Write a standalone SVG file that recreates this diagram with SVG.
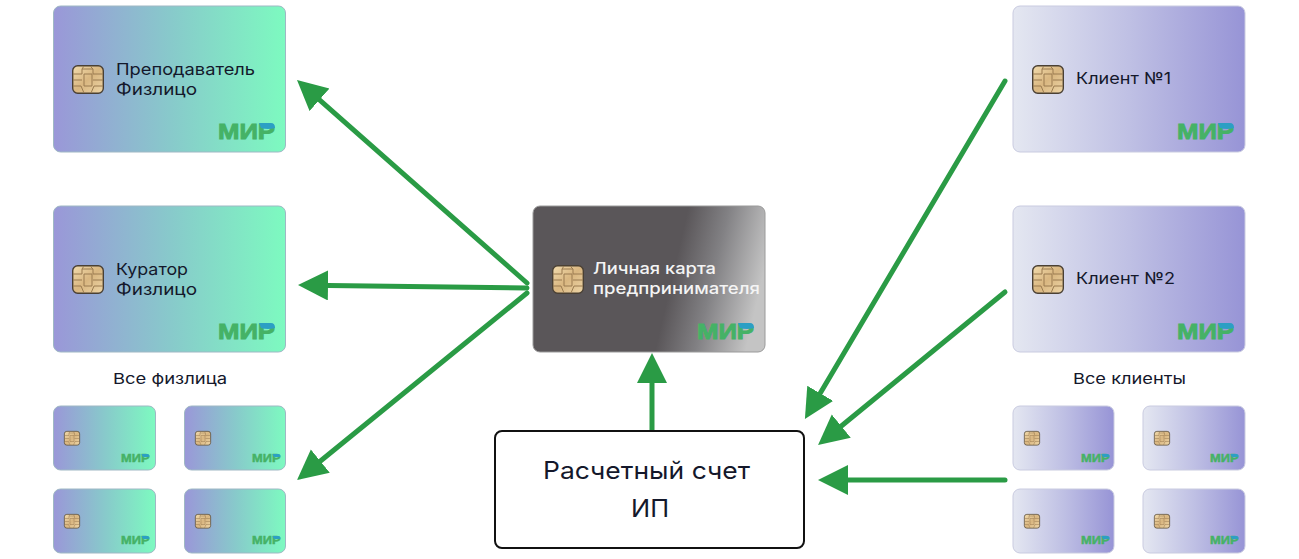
<svg xmlns="http://www.w3.org/2000/svg" width="1299" height="559" viewBox="0 0 1299 559">
<style>
text{font-family:"Inter","Noto Sans","Liberation Sans",sans-serif}
.g{fill:url(#gradGreen);stroke:#9fb8c4;stroke-width:1}
.v{fill:url(#gradViolet);stroke:#c9cbe0;stroke-width:1}
.d{fill:url(#gradDark);stroke:#9a9a9a;stroke-width:1}
.t{font-size:16.5px;fill:#14182b}
.w{font-size:16.5px;font-weight:500;fill:#f4f4f4}
.c{font-size:15px;fill:#14182b}
.b{font-size:24px;fill:#14182b}
.ar{fill:none;stroke:#2a9b45;stroke-width:5;stroke-linecap:round;marker-end:url(#head)}
</style>
<defs>
<linearGradient id="gradGreen" x1="0" y1="0" x2="1" y2="0"><stop offset="0" stop-color="#9a97d8"/><stop offset="0.5" stop-color="#88c9cb"/><stop offset="1" stop-color="#7dfac0"/></linearGradient>
<linearGradient id="gradViolet" x1="0" y1="0" x2="1" y2="0"><stop offset="0" stop-color="#e4e7f1"/><stop offset="0.5" stop-color="#bfc0e4"/><stop offset="1" stop-color="#9794d6"/></linearGradient>
<linearGradient id="gradDark" gradientUnits="userSpaceOnUse" x1="672" y1="278" x2="758" y2="298"><stop offset="0" stop-color="#5a5659"/><stop offset="0.45" stop-color="#828184"/><stop offset="1" stop-color="#c4c4c4"/></linearGradient>
<linearGradient id="gradChip" x1="0" y1="0" x2="1" y2="1"><stop offset="0" stop-color="#f2dcae"/><stop offset="0.5" stop-color="#d9b680"/><stop offset="1" stop-color="#eed6a8"/></linearGradient>
<marker id="head" markerUnits="userSpaceOnUse" markerWidth="32" markerHeight="32" refX="20" refY="15" orient="auto"><path d="M0,0L30,15L0,30Z" fill="#2a9b45"/></marker>
<g id="chip">
<rect x="0.7" y="0.7" width="30.6" height="27.6" rx="5" fill="url(#gradChip)" stroke="#4a4034" stroke-width="1.4"/>
<path d="M1,9H10V4M1,15H10M1,21H9L12,28M31,9H21V4L18,1M31,15H21M31,21H22L19,28M12,1L10,4H21M12,9H20V21H12Z" fill="none" stroke="#9a7b50" stroke-width="1"/>
</g>
<g id="mir">
<text x="0" y="16" font-size="22" font-weight="700" textLength="57" lengthAdjust="spacingAndGlyphs" stroke="#45b266" stroke-width="0.9" style="font-family:'Liberation Sans',sans-serif" fill="#45b266">МИР</text>
<path d="M41,0H53Q57,0 57,5Q50,7 43,5Z" fill="#2c9fc4"/>
</g>
</defs>

<g id="connectors">
<line class="ar" x1="527" y1="283" x2="304.500" y2="86.600"/>
<line class="ar" x1="527" y1="288" x2="308" y2="285.200"/>
<line class="ar" x1="527" y1="293" x2="304.800" y2="473.700"/>
<line class="ar" x1="652" y1="430" x2="652" y2="363"/>
<line class="ar" x1="1005" y1="81" x2="810" y2="410.500"/>
<line class="ar" x1="1005" y1="292" x2="825.800" y2="438.700"/>
<line class="ar" x1="1005" y1="480" x2="828" y2="480"/>
</g>

<g id="card-teacher"><rect class="g" x="53.500" y="6" width="232" height="146" rx="7"/><use href="#chip" x="72" y="65"/><text class="t" x="116" y="75" textLength="139" lengthAdjust="spacingAndGlyphs">Преподаватель</text><text class="t" x="116" y="95" textLength="81" lengthAdjust="spacingAndGlyphs">Физлицо</text><use href="#mir" x="218" y="123"/></g>
<g id="card-curator"><rect class="g" x="53.500" y="206" width="232" height="146" rx="7"/><use href="#chip" x="72" y="265"/><text class="t" x="116" y="275" textLength="72" lengthAdjust="spacingAndGlyphs">Куратор</text><text class="t" x="116" y="295" textLength="81" lengthAdjust="spacingAndGlyphs">Физлицо</text><use href="#mir" x="218" y="323"/></g>
<g id="label-all-persons"><text class="c" x="113" y="384" textLength="114" lengthAdjust="spacingAndGlyphs">Все физлица</text></g>
<g id="card-person-1"><rect class="g" x="53.500" y="406" width="102" height="64" rx="7"/><use href="#chip" transform="translate(64 431) scale(.5)"/><use href="#mir" transform="translate(121 454) scale(.5)"/></g>
<g id="card-person-2"><rect class="g" x="184.500" y="406" width="101" height="64" rx="7"/><use href="#chip" transform="translate(195 431) scale(.5)"/><use href="#mir" transform="translate(252 454) scale(.5)"/></g>
<g id="card-person-3"><rect class="g" x="53.500" y="489" width="102" height="64" rx="7"/><use href="#chip" transform="translate(64 514) scale(.5)"/><use href="#mir" transform="translate(121 536) scale(.5)"/></g>
<g id="card-person-4"><rect class="g" x="184.500" y="489" width="101" height="64" rx="7"/><use href="#chip" transform="translate(195 514) scale(.5)"/><use href="#mir" transform="translate(252 536) scale(.5)"/></g>

<g id="card-owner"><rect class="d" x="533" y="206" width="232" height="146" rx="7"/><use href="#chip" x="552" y="265"/><text class="w" x="593" y="274" textLength="123" lengthAdjust="spacingAndGlyphs">Личная карта</text><text class="w" x="593" y="294" textLength="167" lengthAdjust="spacingAndGlyphs">предпринимателя</text><use href="#mir" x="697" y="323"/></g>

<g id="account"><rect x="495" y="431" width="309" height="117" rx="7" fill="#fff" stroke="#111" stroke-width="2"/><text class="b" x="543" y="479" textLength="207" lengthAdjust="spacingAndGlyphs">Расчетный счет</text><text class="b" x="631" y="517" textLength="38" lengthAdjust="spacingAndGlyphs">ИП</text></g>

<g id="card-client-1"><rect class="v" x="1013" y="6" width="232" height="146" rx="7"/><use href="#chip" x="1032" y="65"/><text class="t" x="1076" y="84" textLength="95" lengthAdjust="spacingAndGlyphs">Клиент №1</text><use href="#mir" x="1177" y="123"/></g>
<g id="card-client-2"><rect class="v" x="1013" y="206" width="232" height="146" rx="7"/><use href="#chip" x="1032" y="265"/><text class="t" x="1076" y="284" textLength="99" lengthAdjust="spacingAndGlyphs">Клиент №2</text><use href="#mir" x="1177" y="323"/></g>
<g id="label-all-clients"><text class="c" x="1073" y="384" textLength="113" lengthAdjust="spacingAndGlyphs">Все клиенты</text></g>
<g id="card-client-3"><rect class="v" x="1013" y="406" width="101" height="64" rx="7"/><use href="#chip" transform="translate(1024 431) scale(.5)"/><use href="#mir" transform="translate(1081 454) scale(.5)"/></g>
<g id="card-client-4"><rect class="v" x="1143" y="406" width="102" height="64" rx="7"/><use href="#chip" transform="translate(1154 431) scale(.5)"/><use href="#mir" transform="translate(1210 454) scale(.5)"/></g>
<g id="card-client-5"><rect class="v" x="1013" y="489" width="101" height="64" rx="7"/><use href="#chip" transform="translate(1024 514) scale(.5)"/><use href="#mir" transform="translate(1081 536) scale(.5)"/></g>
<g id="card-client-6"><rect class="v" x="1143" y="489" width="102" height="64" rx="7"/><use href="#chip" transform="translate(1154 514) scale(.5)"/><use href="#mir" transform="translate(1210 536) scale(.5)"/></g>
</svg>
